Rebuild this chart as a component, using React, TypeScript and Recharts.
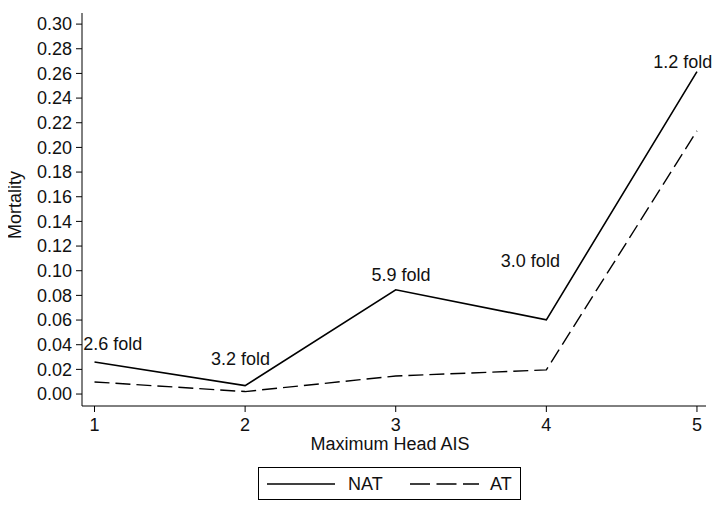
import { LineChart, Line, XAxis, YAxis, ReferenceDot } from 'recharts';

const headAis = [1, 2, 3, 4, 5];
const natMortality = [0.026, 0.0068, 0.0845, 0.0602, 0.2615];
const atMortality = [0.0098, 0.002, 0.0146, 0.0196, 0.2135];
const foldLabels = ['2.6 fold', '3.2 fold', '5.9 fold', '3.0 fold', '1.2 fold'];
const foldX = [1.121, 1.969, 3.035, 3.894, 4.906];
const foldY = [0.0413, 0.0284, 0.0965, 0.108, 0.2694];
const yTicks = [0, 0.02, 0.04, 0.06, 0.08, 0.1, 0.12, 0.14, 0.16, 0.18, 0.2, 0.22, 0.24, 0.26, 0.28, 0.3];

const FONT = '"Liberation Sans", Arial, sans-serif';
const TXT = '#111';

const data = headAis.map((x, i) => ({ x, nat: natMortality[i], at: atMortality[i] }));

function LegendBox() {
  return (
    <div
      style={{
        position: 'absolute',
        left: 258,
        top: 467,
        width: 263,
        height: 33,
        border: '1px solid #000',
        boxSizing: 'border-box',
        fontFamily: FONT,
        fontSize: 18,
        color: TXT,
      }}
    >
      <svg width={263} height={31} style={{ position: 'absolute', left: 0, top: 0 }}>
        <line x1={8} y1={16} x2={76} y2={16} stroke="#000" strokeWidth={1.5} />
        <text x={89} y={16} dominantBaseline="central" fontSize={18} fontFamily={FONT} fill={TXT}>NAT</text>
        <line x1={151} y1={16} x2={220} y2={16} stroke="#000" strokeWidth={1.5} strokeDasharray="20 6.5" />
        <text x={231} y={16} dominantBaseline="central" fontSize={18} fontFamily={FONT} fill={TXT}>AT</text>
      </svg>
    </div>
  );
}

export default function App() {
  return (
    <div style={{ margin: -8, width: 724, height: 512, background: '#fff', position: 'relative' }}>
      <LineChart width={724} height={512} data={data} margin={{ top: 13, right: 18, bottom: 0, left: 0 }}>
        <XAxis
          dataKey="x"
          type="number"
          domain={[0.917, 5.06]}
          ticks={headAis}
          interval={0}
          allowDataOverflow
          height={106}
          stroke="#000"
          tickSize={6}
          tickMargin={6}
          tick={{ fill: TXT, fontSize: 18, fontFamily: FONT }}
          label={({ viewBox }: any) => (
            <text
              x={viewBox.x + viewBox.width / 2 - 4}
              y={viewBox.y + 38}
              textAnchor="middle"
              dominantBaseline="central"
              fontSize={18}
              fontFamily={FONT}
              fill={TXT}
            >
              Maximum Head AIS
            </text>
          )}
        />
        <YAxis
          type="number"
          domain={[-0.0097, 0.309]}
          ticks={yTicks}
          interval={0}
          allowDataOverflow
          width={82}
          stroke="#000"
          tickSize={6}
          tickMargin={4}
          tickFormatter={(v: number) => v.toFixed(2)}
          tick={{ fill: TXT, fontSize: 18, fontFamily: FONT }}
          label={() => (
            <text
              x={15}
              y={205}
              transform="rotate(-90 15 205)"
              textAnchor="middle"
              dominantBaseline="central"
              fontSize={18}
              fontFamily={FONT}
              fill={TXT}
            >
              Mortality
            </text>
          )}
        />
        <Line dataKey="nat" name="NAT" stroke="#000" strokeWidth={1.6} dot={false} isAnimationActive={false} />
        <Line dataKey="at" name="AT" stroke="#000" strokeWidth={1.4} strokeDasharray="15 6" dot={false} isAnimationActive={false} />
        {foldLabels.map((t, i) => (
          <ReferenceDot
            key={t}
            x={foldX[i]}
            y={foldY[i]}
            r={0}
            stroke="none"
            fill="none"
            label={{ value: t, position: 'center', fill: TXT, fontSize: 18, fontFamily: FONT }}
          />
        ))}
      </LineChart>
      <LegendBox />
    </div>
  );
}
